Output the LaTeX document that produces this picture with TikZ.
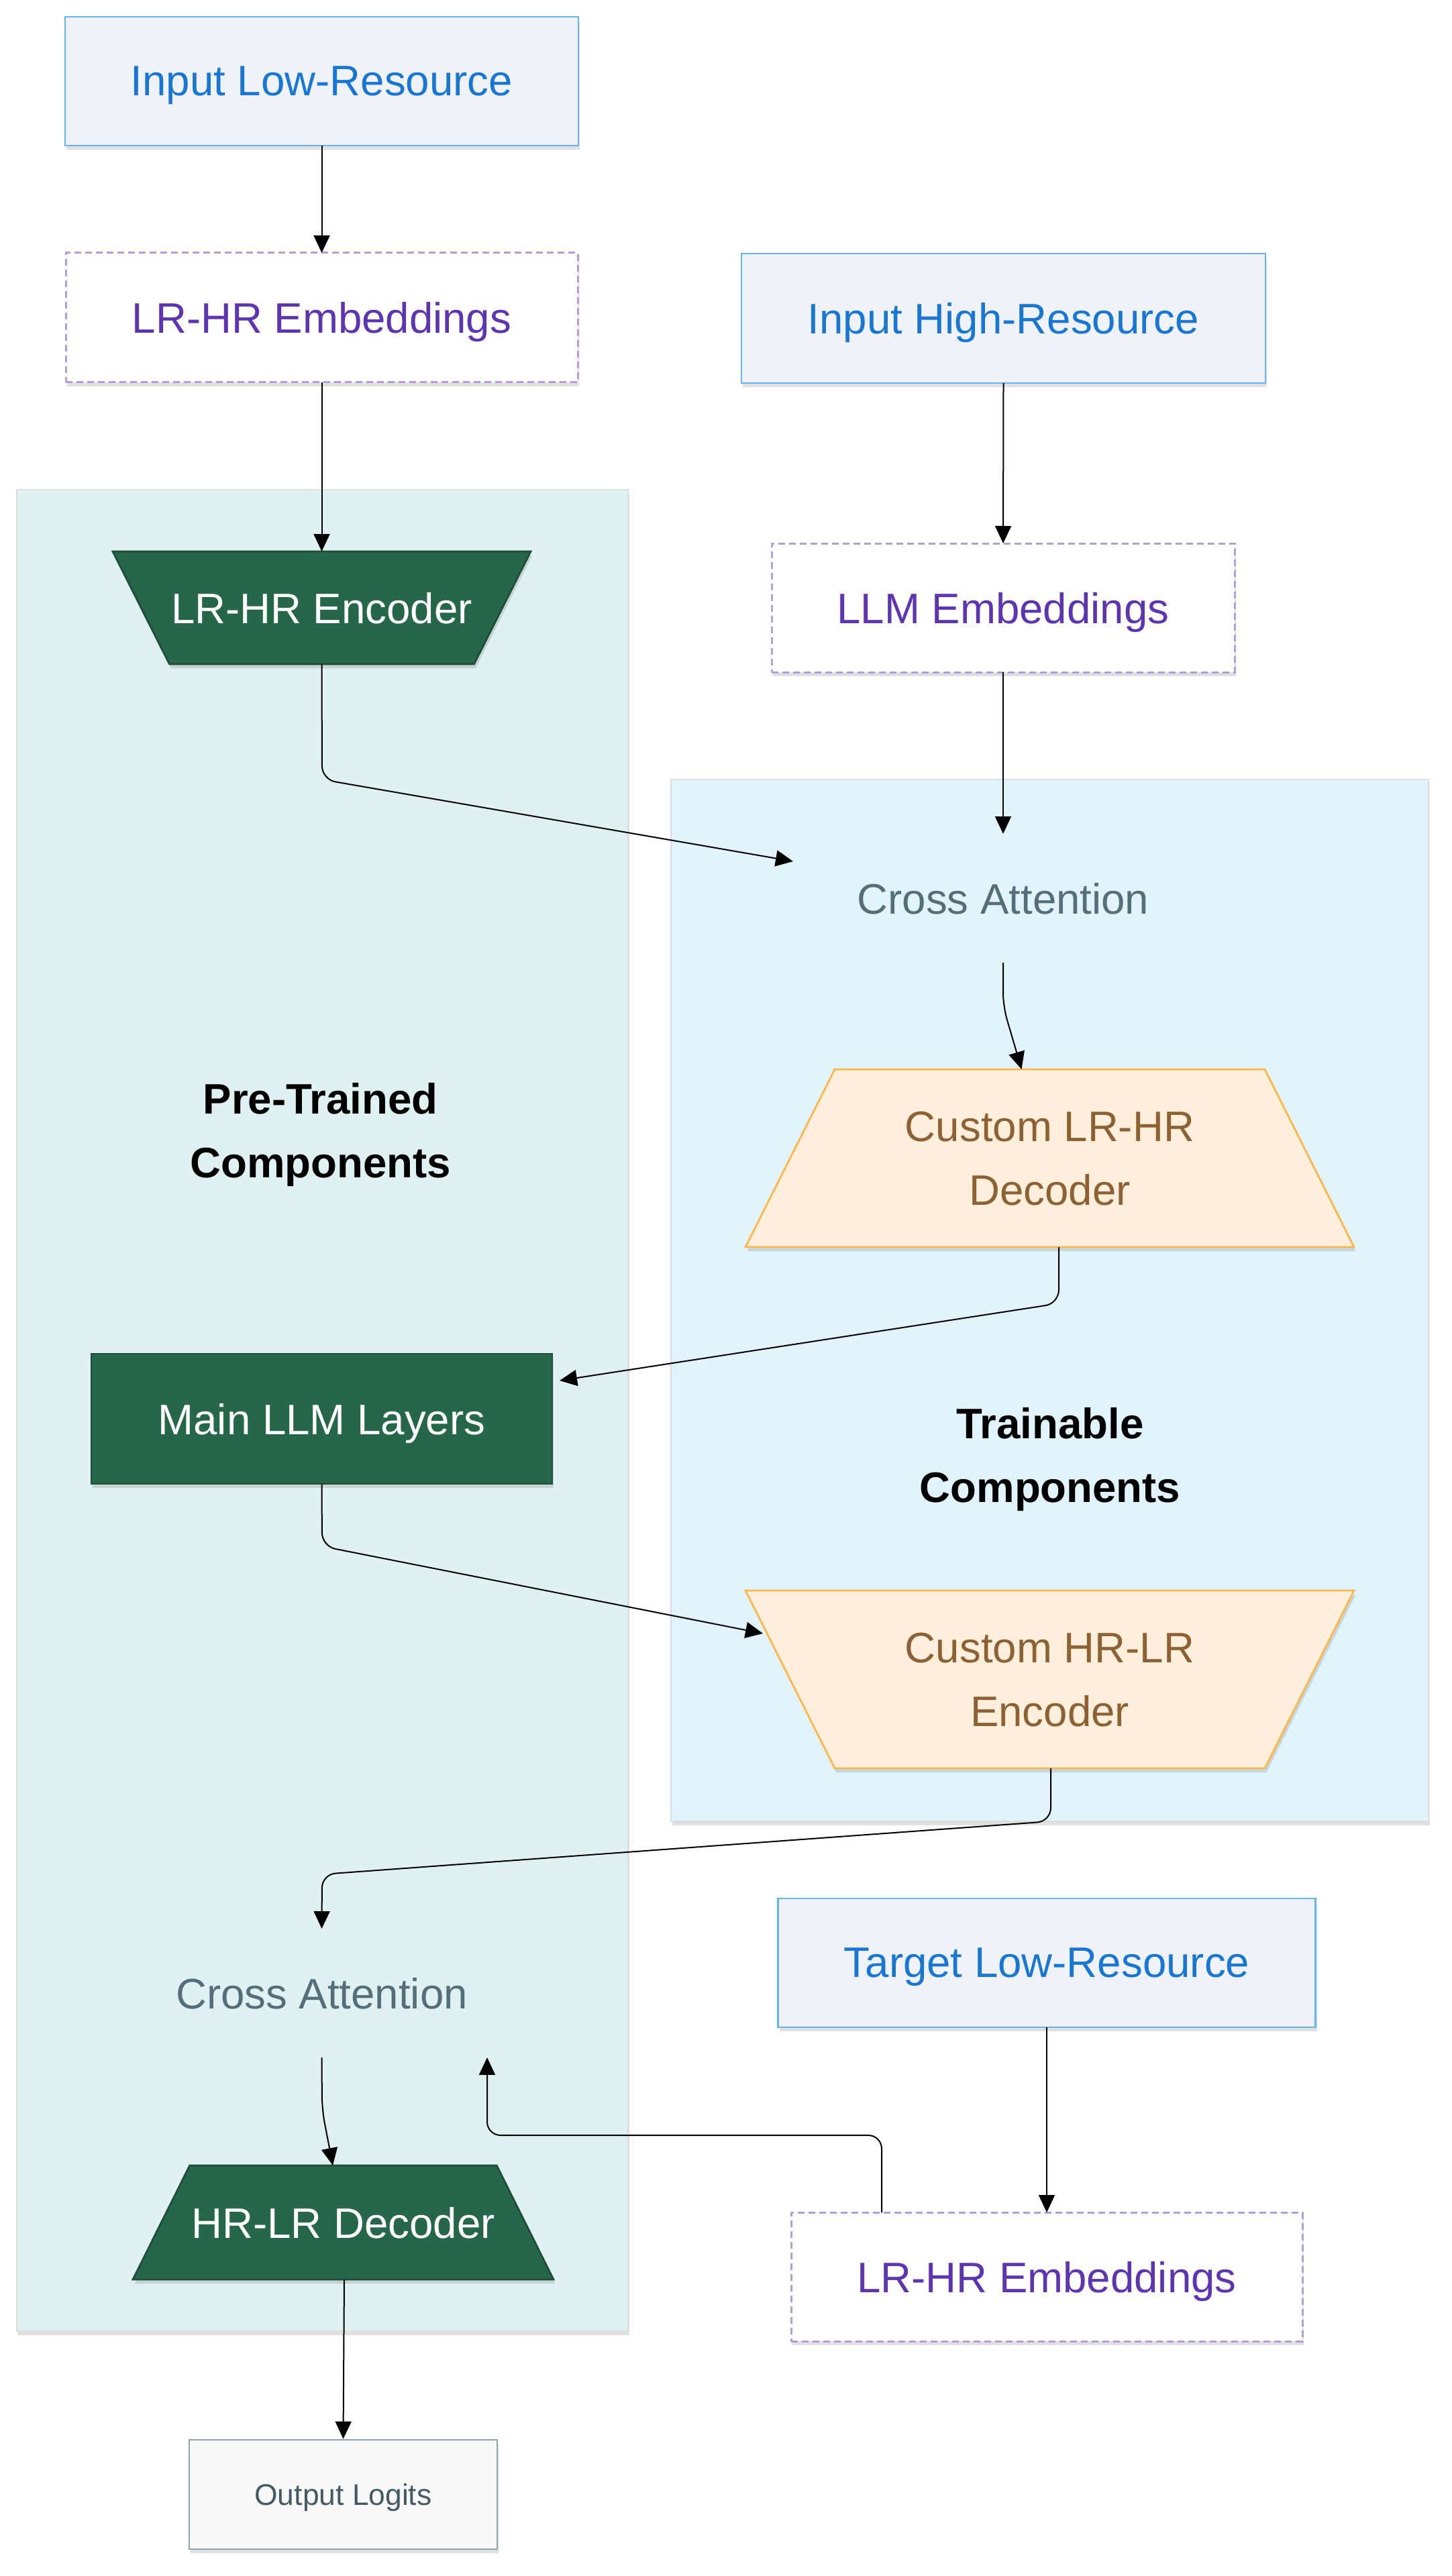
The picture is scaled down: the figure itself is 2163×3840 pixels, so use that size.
\documentclass[tikz,border=0pt]{standalone}
\usepackage{fontspec}
\setmainfont{Liberation Sans}
\usetikzlibrary{arrows.meta,calc,shadows}
\definecolor{inputfill}{HTML}{EFF3F8}
\definecolor{inputdraw}{HTML}{64B5F6}
\definecolor{inputtext}{HTML}{1976D2}
\definecolor{embdraw}{HTML}{B39DDB}
\definecolor{embtext}{HTML}{5E35B1}
\definecolor{catext}{HTML}{546E7A}
\definecolor{greenfill}{HTML}{276749}
\definecolor{greendraw}{HTML}{1F4D39}
\definecolor{custfill}{HTML}{FFEFDB}
\definecolor{custdraw}{HTML}{FFB74D}
\definecolor{custtext}{HTML}{8D6134}
\definecolor{prefill}{HTML}{E0F1F1}
\definecolor{trainfill}{HTML}{E1F4FC}
\definecolor{clusterdraw}{HTML}{DDDDDD}
\definecolor{outfill}{HTML}{F9F9F9}
\definecolor{outdraw}{HTML}{90A4AE}
\definecolor{outtext}{HTML}{455A64}
\begin{document}
\begin{tikzpicture}[x=0.25pt,y=-0.25pt,
  base/.style={font=\fontsize{15.9}{23.85}\selectfont, align=center, inner sep=0pt, outer sep=0pt, text depth=0pt},
  shad/.style={drop shadow={shadow xshift=0.6pt,shadow yshift=-1.6pt,opacity=0.12,fill=black}},
  inbox/.style={base, rectangle, fill=inputfill, draw=inputdraw, line width=0.7pt, text=inputtext, shad},
  embbox/.style={base, rectangle, fill=white, draw=embdraw, line width=0.75pt, dash pattern=on 2.5pt off 1.5pt, text=embtext, shad},
  attn/.style={base, rectangle, text=catext},
  greenrect/.style={base, rectangle, fill=greenfill, draw=greendraw, line width=0.7pt, text=white, shad},
  greenshape/.style={fill=greenfill, draw=greendraw, line width=0.7pt, shad},
  custshape/.style={fill=custfill, draw=custdraw, line width=0.7pt, shad},
  greentext/.style={base, rectangle, text=white},
  custtextnode/.style={base, rectangle, text=custtext},
  cluster/.style={rectangle, draw=clusterdraw, line width=0.6pt, inner sep=0pt, shad},
  clabel/.style={font=\fontsize{15.9}{23.85}\selectfont\bfseries, align=center, text=black, inner sep=0pt, text depth=0pt},
  outbox/.style={rectangle, fill=outfill, draw=outdraw, line width=0.7pt, text=outtext, font=\fontsize{11.1}{13}\selectfont, inner sep=0pt, text depth=0pt, shad},
  conn/.style={draw=black, line width=0.5pt, rounded corners=5pt, -{Triangle[length=6.5pt,width=6pt]}}
]
\useasboundingbox[fill=white] (0,0) rectangle (2163,3840);

% clusters
\node[cluster, fill=prefill, minimum width=227.75pt, minimum height=686.25pt] (pre) at (480.5,2102.5) {};
\node[cluster, fill=trainfill, minimum width=282.25pt, minimum height=388.25pt] (train) at (1564.5,1938.5) {};
\node[clabel] (prelabel) at (477.7,1685) {Pre-Trained\\Components};
\node[clabel] (trainlabel) at (1565,2169) {Trainable\\Components};

% trapezoid centres and shapes
\coordinate (enc1c) at (479.5,906);
\coordinate (dec1c) at (1564.5,1726.5);
\coordinate (enc2c) at (1564.5,2503.5);
\coordinate (dec2c) at (511.5,3313);
\draw[greenshape] ($(enc1c)+(-311.5,-84)$) -- ($(enc1c)+(311.5,-84)$) -- ($(enc1c)+(227,84)$) -- ($(enc1c)+(-227,84)$) -- cycle;
\draw[custshape] ($(dec1c)+(-320.5,-132.5)$) -- ($(dec1c)+(320.5,-132.5)$) -- ($(dec1c)+(453.5,132.5)$) -- ($(dec1c)+(-453.5,132.5)$) -- cycle;
\draw[custshape] ($(enc2c)+(-453.5,-132.5)$) -- ($(enc2c)+(453.5,-132.5)$) -- ($(enc2c)+(320.5,132.5)$) -- ($(enc2c)+(-320.5,132.5)$) -- cycle;
\draw[greenshape] ($(dec2c)+(-228.75,-85)$) -- ($(dec2c)+(228.75,-85)$) -- ($(dec2c)+(313.5,85)$) -- ($(dec2c)+(-313.5,85)$) -- cycle;

% nodes
\node[inbox, minimum width=191.25pt, minimum height=48pt] (inlr) at (479.5,121) {Input Low-Resource};
\node[embbox, minimum width=190.75pt, minimum height=48.25pt] (emb1) at (479.5,473.5) {LR-HR Embeddings};
\node[inbox, minimum width=195.25pt, minimum height=48.25pt] (inhr) at (1495.5,474.5) {Input High-Resource};
\node[embbox, minimum width=172.5pt, minimum height=48pt] (llmemb) at (1495,906) {LLM Embeddings};
\node[greentext, minimum width=113.5pt, minimum height=42pt] (enc1) at (enc1c) {LR-HR Encoder};
\node[attn, minimum width=155pt, minimum height=48pt] (ca1) at (1495,1339) {Cross Attention};
\node[custtextnode, minimum width=160pt, minimum height=66.25pt] (dec1) at (dec1c) {Custom LR-HR\\Decoder};
\node[greenrect, minimum width=171.75pt, minimum height=48.5pt] (mll) at (479.5,2115) {Main LLM Layers};
\node[custtextnode, minimum width=160pt, minimum height=66.25pt] (enc2) at (enc2c) {Custom HR-LR\\Encoder};
\node[attn, minimum width=150pt, minimum height=48pt] (ca2) at (479.5,2971) {Cross Attention};
\node[greentext, minimum width=114pt, minimum height=42.5pt] (dec2) at (dec2c) {HR-LR Decoder};
\node[inbox, minimum width=200.25pt, minimum height=48pt] (tgt) at (1560,2926) {Target Low-Resource};
\node[embbox, minimum width=190.5pt, minimum height=48pt] (emb2) at (1560,3394) {LR-HR Embeddings};
\node[outbox, minimum width=114.75pt, minimum height=40.75pt] (out) at (511.5,3718.5) {Output Logits};

% connectors
\draw[conn] (inlr.south) -- (emb1.north);
\draw[conn] (emb1.south) -- ($(enc1.center)+(0,-84)$);
\draw[conn] (inhr.south) -- (llmemb.north);
\draw[conn] (llmemb.south) -- (ca1.north);
\draw[conn] ($(enc1.center)+(0,84)$) -- (480,1162) -- ($(ca1.north west)+(-3,41)$);
\draw[conn] (ca1.south) -- (1495,1500) -- ($(dec1.center)+(-42,-132.5)$);
\draw[conn] ($(dec1.center)+(13.5,132.5)$) -- (1578,1943) -- ($(mll.east)+(11,-57)$);
\draw[conn] (mll.south) -- (480,2305) -- ($(enc2.center)+(-427.5,-68.5)$);
\draw[conn] ($(enc2.center)+(1.5,132.5)$) -- (1566,2715) -- (480,2794) -- (ca2.north);
\draw[conn] (ca2.south) -- (480,3145) -- ($(dec2.center)+(-15.5,-85)$);
\draw[conn] (tgt.south) -- (emb2.north);
\draw[conn] ($(emb2.north)+(-246,0)$) -- (1314,3183) -- (726,3183) -- ($(ca2.south)+(246.5,0)$);
\draw[conn] ($(dec2.center)+(1.5,85)$) -- (out.north);
\end{tikzpicture}
\end{document}
